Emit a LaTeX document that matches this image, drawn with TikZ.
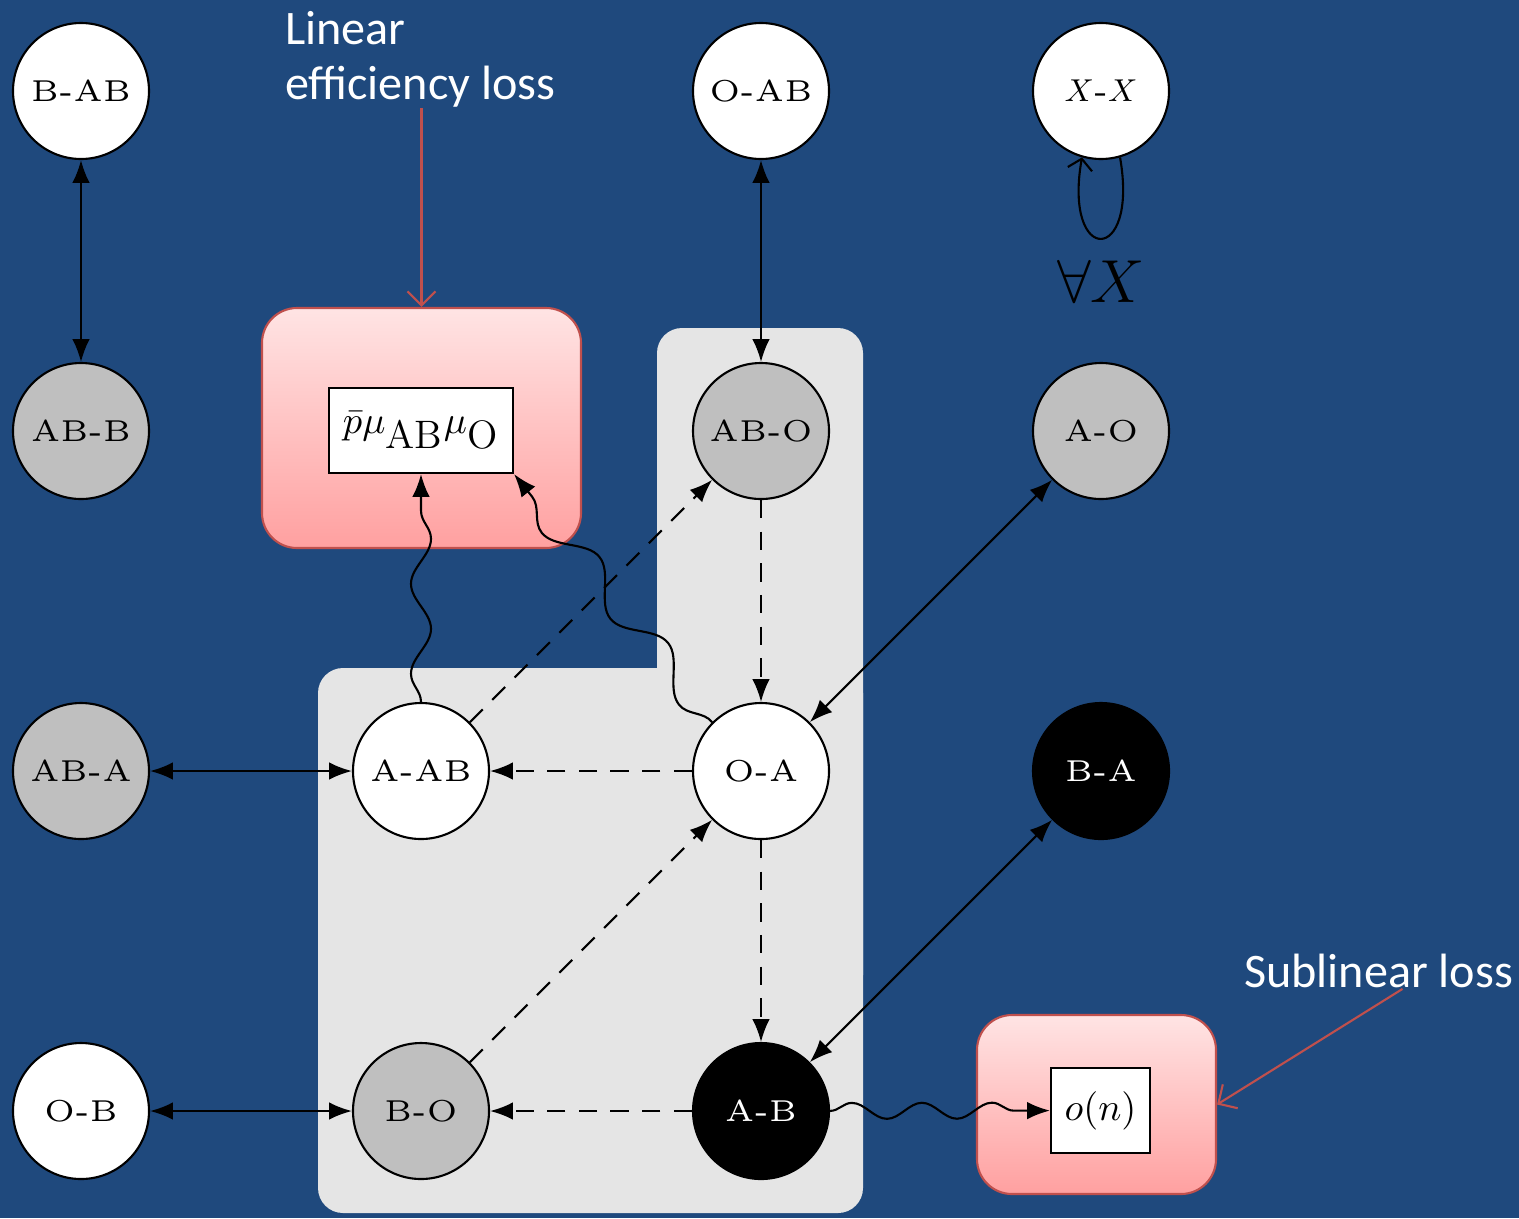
\documentclass[tikz,border=0pt]{standalone}
\usepackage{amsmath}
\usepackage{fontspec}
\newfontfamily\notefont{Carlito}
\newfontfamily\statefont{lmroman5-regular.otf}
\usetikzlibrary{shapes, arrows.meta, positioning, decorations.pathmorphing}
\definecolor{slide}{RGB}{31,73,125}
\definecolor{panel}{RGB}{229,229,229}
\definecolor{losstop}{RGB}{255,228,228}
\definecolor{lossbot}{RGB}{255,160,160}
\definecolor{lossline}{RGB}{192,80,77}
\tikzstyle{every node}=[font=\fontsize{9.5}{11}\selectfont]
\tikzstyle{state}=[draw,circle,minimum size=1.36cm,inner sep=0pt,line width=0.6pt,font=\statefont\fontsize{8.6}{10}\selectfont]
\tikzstyle{white state}=[state,fill=white]
\tikzstyle{gray state}=[state,fill=black!25]
\tikzstyle{black state}=[state,fill=black,text=white]
\tikzstyle{lossbox}=[draw=lossline,rectangle,rounded corners=0.35cm,top color=losstop,bottom color=lossbot,line width=0.6pt]
\tikzstyle{term}=[draw,fill=white,rectangle,line width=0.6pt,inner sep=0pt,font=\fontsize{11.3}{13}\selectfont]
\tikzstyle{note}=[text=white,align=left,inner sep=0pt,font=\notefont\fontsize{13.7}{15.6}\selectfont]
\tikzstyle{dep}=[->,dash pattern=on 5.2pt off 3.8pt]
\tikzstyle{wave}=[->,decorate,decoration={snake,amplitude=0.1cm,segment length=0.9cm,post length=0.2cm}]
\tikzstyle{pointer}=[draw=lossline,line width=0.6pt,-{Straight Barb[length=4pt,width=8pt]}]
\newcommand{\lossterm}{$\bar{p}\mu_{\textstyle\mathrm{AB}}\mu_{\textstyle\mathrm{O}}$}

\begin{document}
\begin{tikzpicture}[node distance=3.4cm,>={Latex[length=6.5pt,width=5pt]},line width=0.6pt]
    \fill[slide] (0,0) rectangle (15.19,-12.18);
    \useasboundingbox (0,0) rectangle (15.19,-12.18);
    \fill[panel,rounded corners=0.25cm] (6.57,-3.28) rectangle (8.63,-10);
    \fill[panel,rounded corners=0.25cm] (3.18,-6.68) rectangle (8.63,-12.13);
    \node[lossbox,minimum width=3.19cm,minimum height=2.4cm] (linbox) at (4.215,-4.28) {};
    \node[term,minimum width=1.84cm,minimum height=0.85cm] (pmu) at (4.21,-4.305) {\lossterm};
    \node[lossbox,minimum width=2.39cm,minimum height=1.79cm] (subbox) at (10.965,-11.045) {};
    \node[term,minimum width=0.99cm,minimum height=0.85cm] (on) at (11.005,-11.105) {$o(n)$};
    \node[note,anchor=north west] (lintxt) at (2.84,-0.1) {Linear\\efficiency loss};
    \node[note,anchor=north west] (subtxt) at (12.43,-9.53) {Sublinear loss};
    \node[white state] (bab) at (0.81,-0.91) {B-AB};
    \node[gray state, below of=bab] (abb) {AB-B};
    \node[gray state, below of=abb] (aba) {AB-A};
    \node[white state, below of=aba] (ob) {O-B};
    \node[white state, right of=aba] (aab) {A-AB};
    \node[white state, right of=aab] (oa) {O-A};
    \node[black state, right of=oa] (ba) {B-A};
    \node[gray state, right of=ob] (bo) {B-O};
    \node[black state, right of=bo] (ab) {A-B};
    \node[gray state, above of=oa] (abo) {AB-O};
    \node[white state, above of=abo] (oab) {O-AB};
    \node[gray state, right of=abo] (ao) {A-O};
    \node[white state, above of=ao] (xx) {$X$-$X$};
    \node[below of=xx, node distance=1.9cm, font=\fontsize{16}{19}\selectfont] (all) {$\forall X$};
    \draw[<->] (bab) -- (abb);
    \draw[<->] (oab) -- (abo);
    \draw[<->] (aba) -- (aab);
    \draw[<->] (ob) -- (bo);
    \draw[<->] (ao) -- (oa);
    \draw[<->] (ba) -- (ab);
    \draw[dep] (abo) -- (oa);
    \draw[dep] (oa) -- (aab);
    \draw[dep] (oa) -- (ab);
    \draw[dep] (aab) -- (abo);
    \draw[dep] (bo) -- (oa);
    \draw[dep] (ab) -- (bo);
    \draw[-{Straight Barb[length=3pt,width=7pt]}] (xx.-74) .. controls +(-80:1.1) and +(-100:1.1) .. (xx.-106);
    \draw[wave] (aab) -- (pmu);
    \draw[wave,decoration={amplitude=0.15cm,segment length=1.1cm}] (oa.north west) -- (pmu.south east);
    \draw[wave,decoration={amplitude=0.08cm,segment length=0.7cm}] (ab) -- (on);
    \draw[pointer] (lintxt.south -| linbox.north) -- (linbox.north);
    \draw[pointer] ([xshift=0.24cm]subtxt.south) -- (subbox.east);
\end{tikzpicture}
\end{document}
